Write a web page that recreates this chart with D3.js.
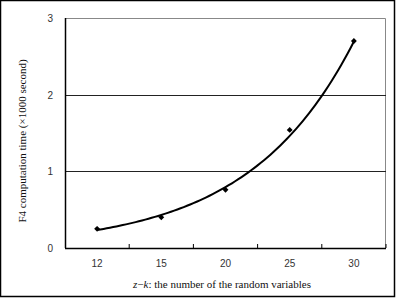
<!DOCTYPE html>
<html><head><meta charset="utf-8">
<script src="https://cdn.jsdelivr.net/npm/d3@7"></script>
<style>html,body{margin:0;padding:0;background:#fff;}svg{display:block;}</style>
</head><body>
<svg id="c" width="396" height="298"></svg>
<script>
const categories = ["12", "15", "20", "25", "30"];
const times = [0.25, 0.40, 0.76, 1.54, 2.70];
const yTicks = [0, 1, 2, 3];

const svg = d3.select("#c");
const W = 396, H = 298;
const m = {l: 65, r: 10, t: 18, b: 50};
const pw = W - m.l - m.r, ph = H - m.t - m.b;

svg.append("rect").attr("x", 0.5).attr("y", 0.5).attr("width", W - 2).attr("height", H - 2)
  .attr("fill", "#fff").attr("stroke", "#000").attr("stroke-width", 1.5);

const g = svg.append("g").attr("transform", `translate(${m.l},${m.t})`);
const x = d3.scaleBand().domain(categories).range([0, pw]);
const y = d3.scaleLinear().domain([0, 3]).range([ph, 0]);

// plot frame (top/right gray)
g.append("path").attr("d", `M0,0.5H${pw - 0.5}V${ph}`).attr("fill", "none").attr("stroke", "#888").attr("stroke-width", 1);

// gridlines
g.selectAll(".grid").data(yTicks.filter(v => v > 0 && v < 3)).enter().append("line")
  .attr("x1", 0).attr("x2", pw).attr("y1", d => Math.round(y(d)) + 0.5).attr("y2", d => Math.round(y(d)) + 0.5)
  .attr("stroke", "#222").attr("stroke-width", 1);

// y axis
g.append("line").attr("x1", 0.5).attr("x2", 0.5).attr("y1", 0).attr("y2", ph).attr("stroke", "#000").attr("stroke-width", 1.5);
g.selectAll(".yt").data(yTicks).enter().append("text")
  .attr("x", -12).attr("y", d => y(d) + 4).attr("text-anchor", "end")
  .attr("font-family", "Liberation Sans, Arial, sans-serif").attr("font-size", 10).attr("fill", "#333").text(d => d);

// x axis
g.append("line").attr("x1", 0).attr("x2", pw).attr("y1", ph + 0.5).attr("y2", ph + 0.5).attr("stroke", "#000").attr("stroke-width", 1.5);
g.selectAll(".xtick").data(categories).enter().append("line")
  .attr("x1", d => x(d) + x.bandwidth()).attr("x2", d => x(d) + x.bandwidth())
  .attr("y1", ph).attr("y2", ph - 4).attr("stroke", "#000").attr("stroke-width", 1);
g.selectAll(".xt").data(categories).enter().append("text")
  .attr("x", d => x(d) + x.bandwidth() / 2).attr("y", ph + 19).attr("text-anchor", "middle")
  .attr("font-family", "Liberation Sans, Arial, sans-serif").attr("font-size", 10).attr("fill", "#333").text(d => d);

// exponential trendline fitted to the data (on category index)
const idx = times.map((_, i) => i + 1);
const ly = times.map(Math.log);
const mx = d3.mean(idx), my = d3.mean(ly);
const slope = d3.sum(idx, (v, i) => (v - mx) * (ly[i] - my)) / d3.sum(idx, v => (v - mx) ** 2);
const icpt = my - slope * mx;
const xi = d3.scaleLinear().domain([1, 5]).range([x(categories[0]) + x.bandwidth() / 2, x(categories[4]) + x.bandwidth() / 2]);
const trend = d3.range(1, 5.001, 0.05).map(t => [xi(t), y(Math.exp(icpt + slope * t))]);
g.append("path").attr("d", d3.line()(trend)).attr("fill", "none").attr("stroke", "#000").attr("stroke-width", 2);

// markers
g.selectAll(".pt").data(times).enter().append("path")
  .attr("d", d3.symbol(d3.symbolDiamond2, 22))
  .attr("transform", (d, i) => `translate(${x(categories[i]) + x.bandwidth() / 2},${y(d)})`)
  .attr("fill", "#000");

// axis titles
svg.append("text").attr("transform", `translate(26,${m.t + ph / 2 + 8}) rotate(-90)`)
  .attr("text-anchor", "middle").attr("font-family", "Liberation Serif, Times New Roman, serif").attr("font-size", 11).attr("fill", "#111")
  .text("F4 computation time (×1000 second)");
const xl = svg.append("text").attr("x", 222).attr("y", 288).attr("text-anchor", "middle")
  .attr("font-family", "Liberation Serif, Times New Roman, serif").attr("font-size", 11).attr("fill", "#111");
xl.append("tspan").attr("font-style", "italic").text("z");
xl.append("tspan").text("−");
xl.append("tspan").attr("font-style", "italic").text("k");
xl.append("tspan").text(": the number of the random variables");
</script>
</body></html>
